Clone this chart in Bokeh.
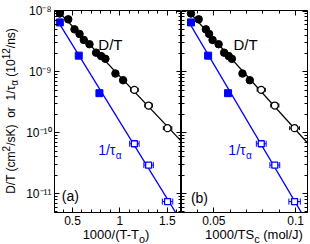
import numpy as np
from bokeh.plotting import figure
from bokeh.models import (Range1d, LinearAxis, LogAxis, LogTicker, FixedTicker, Label,
                          Whisker, TeeHead, ColumnDataSource, CustomJSTickFormatter, Div)
from bokeh.layouts import row, column
from bokeh.embed import file_html
from bokeh.resources import INLINE

# ---------------- data ----------------
# D/T (filled = measured, open = extrapolated)
dt_y = [9.1e-9, 7.3e-9, 5.0e-9, 4.2e-9, 3.35e-9, 2.85e-9, 2.07e-9, 1.82e-9, 1.64e-9, 9.4e-10, 7.3e-10]
dt_x_a = [0.366, 0.455, 0.521, 0.574, 0.619, 0.679, 0.749, 0.802, 0.847, 0.953, 1.034]
dt_x_b = [0.0360, 0.0407, 0.0451, 0.0471, 0.0492, 0.0529, 0.0563, 0.0591, 0.0610, 0.0675, 0.0720]
dt_open_y = [5.07e-10, 2.8e-10, 1.19e-10]
open_x_a = [1.153, 1.303, 1.503]
open_x_b = [0.0790, 0.0873, 0.0994]
dt_open_err_a = [0.04, 0.04, 0.045]
dt_open_err_b = [0.0025, 0.0025, 0.003]
# 1/tau_alpha
tau_y = [6.5e-9, 1.85e-9, 4.47e-10]
tau_x_a = [0.366, 0.566, 0.784]
tau_x_b = [0.0360, 0.0465, 0.0587]
tau_open_y = [6.6e-11, 2.94e-11, 7.4e-12]
tau_open_err_a = [0.05, 0.05, 0.055]
tau_open_err_b = [0.003, 0.003, 0.0035]
# fit-line spans
fit_dt_span_a = [0.30, 1.70]
fit_tau_span_a = [0.366, 1.70]
fit_dt_span_b = [0.028, 0.110]
fit_tau_span_b = [0.036, 0.110]
# axes
xticks_a = [0.5, 1.0, 1.5]
xminor_a = [0.4, 0.6, 0.7, 0.8, 0.9, 1.1, 1.2, 1.3, 1.4, 1.6]
xticks_b = [0.05, 0.1]
xminor_b = [0.04, 0.06, 0.07, 0.08, 0.09]
xrange_a = (0.31, 1.65)
xrange_b = (0.0302, 0.1073)
yrange = (4.9e-12, 1.02e-8)
xlabel_a = "1000/(T-T<sub>o</sub>)"
xlabel_b = "1000/TS<sub>c</sub> (mol/J)"
ylabel = "D/T (cm<sup>2</sup>/sK)&nbsp; or &nbsp;1/&tau;<sub>&alpha;</sub> (10<sup>12</sup>/ns)"

FONT = "Liberation Sans"
BLUE = "#0000ff"

log_fmt = CustomJSTickFormatter(code="""
const e = Math.round(Math.log10(tick));
const sup = {'-':'\u207b','0':'\u2070','1':'\u00b9','2':'\u00b2','3':'\u00b3','4':'\u2074',
             '5':'\u2075','6':'\u2076','7':'\u2077','8':'\u2078','9':'\u2079'};
return '10' + String(e).split('').map(c => sup[c]).join('');
""")
lin_fmt = CustomJSTickFormatter(code="return String(Math.round(tick*1000)/1000);")
blank_fmt = CustomJSTickFormatter(code="return '';")


def style(ax, labels, fixed=None):
    ax.major_tick_in = 5
    ax.major_tick_out = 0
    ax.minor_tick_in = 3
    ax.minor_tick_out = 0
    ax.axis_line_color = "black"
    ax.major_tick_line_color = "black"
    ax.minor_tick_line_color = "black"
    if labels:
        ax.major_label_text_font = FONT
        ax.major_label_text_font_size = "12px"
        ax.major_label_text_color = "black"
        ax.major_label_standoff = 3
    else:
        ax.formatter = blank_fmt
        ax.major_label_text_font_size = "1px"
        ax.major_label_standoff = 0
    if fixed is not None:
        ax.fixed_location = fixed


def fit_line(xs, ys, span):
    c = np.polyfit(np.asarray(xs), np.log10(np.asarray(ys)), 1)
    sx = np.asarray(span)
    return sx, 10 ** np.polyval(c, sx)


H = 228  # figure height (frame bottom at 212, tick labels below)


def panel(xr, xticks, xminor, dtx, openx, dterr, taux, tauerr, span_dt, span_tau,
          width, bl, br, show_ylabels):
    p = figure(width=width, height=H, x_range=Range1d(*xr), y_range=Range1d(*yrange),
               y_axis_type="log", output_backend="svg", toolbar_location=None,
               min_border_left=bl, min_border_right=br, min_border_top=10,
               min_border_bottom=H - 212, margin=0)
    p.xgrid.grid_line_color = None
    p.ygrid.grid_line_color = None
    p.outline_line_color = "black"
    p.background_fill_color = "white"
    xt = FixedTicker(ticks=xticks, minor_ticks=xminor)
    yt = LogTicker(num_minor_ticks=10)
    p.xaxis.ticker = xt
    p.xaxis.formatter = lin_fmt
    p.yaxis.ticker = yt
    p.yaxis.formatter = log_fmt
    style(p.xaxis[0], True)
    style(p.yaxis[0], show_ylabels, None if show_ylabels else xr[0])
    top = LinearAxis(ticker=xt)
    style(top, False, yrange[1])
    p.add_layout(top, "above")
    right = LogAxis(ticker=yt)
    style(right, False, xr[1])
    p.add_layout(right, "right")

    all_dt_x = list(dtx) + list(openx)
    all_dt_y = dt_y + dt_open_y
    lx, ly = fit_line(all_dt_x, all_dt_y, span_dt)
    p.line(lx, ly, line_color="black", line_width=1.3)
    all_tau_x = list(taux) + list(openx)
    all_tau_y = tau_y + tau_open_y
    lx, ly = fit_line(all_tau_x, all_tau_y, span_tau)
    p.line(lx, ly, line_color=BLUE, line_width=1.3)

    s1 = ColumnDataSource(dict(y=dt_open_y, lo=np.array(openx) - np.array(dterr),
                               hi=np.array(openx) + np.array(dterr)))
    p.add_layout(Whisker(base="y", lower="lo", upper="hi", dimension="width", source=s1,
                         line_color="black", line_width=1,
                         upper_head=TeeHead(size=4, line_color="black"),
                         lower_head=TeeHead(size=4, line_color="black")))
    s2 = ColumnDataSource(dict(y=tau_open_y, lo=np.array(openx) - np.array(tauerr),
                               hi=np.array(openx) + np.array(tauerr)))
    p.add_layout(Whisker(base="y", lower="lo", upper="hi", dimension="width", source=s2,
                         line_color=BLUE, line_width=1,
                         upper_head=TeeHead(size=6, line_color=BLUE),
                         lower_head=TeeHead(size=6, line_color=BLUE)))

    p.scatter(dtx, dt_y, marker="circle", size=7.5, fill_color="black", line_color="black")
    p.scatter(openx, dt_open_y, marker="circle", size=7, fill_color="white",
              line_color="black", line_width=1.3)
    p.scatter(taux, tau_y, marker="square", size=7, fill_color=BLUE, line_color=BLUE)
    p.scatter(openx, tau_open_y, marker="square", size=6, fill_color="white",
              line_color=BLUE, line_width=1.3)
    return p


def lab(p, x, y, text, size, color="black", align="left", baseline="alphabetic"):
    p.add_layout(Label(x=x, y=y, text=text, text_font=FONT, text_font_size=size,
                       text_color=color, text_align=align, text_baseline=baseline))


YW = 22  # width of the y-label column
p1 = panel(xrange_a, xticks_a, xminor_a, dt_x_a, open_x_a, dt_open_err_a, tau_x_a,
           tau_open_err_a, fit_dt_span_a, fit_tau_span_a, 181 - YW, 54 - YW, 0, True)
p2 = panel(xrange_b, xticks_b, xminor_b, dt_x_b, open_x_b, dt_open_err_b, tau_x_b,
           tau_open_err_b, fit_dt_span_b, fit_tau_span_b, 129, 0, 3, False)

# panel texts
lab(p1, 0.90, 2.77e-9, "D/T", "15px", align="center", baseline="middle")
lab(p1, 0.952, 5.26e-11, "1/\u03c4", "14px", color=BLUE, align="right")
lab(p1, 0.957, 4.2e-11, "\u03b1", "10px", color=BLUE)
lab(p1, 0.478, 9.27e-12, "(a)", "14px", align="center", baseline="middle")
lab(p2, 0.0694, 2.77e-9, "D/T", "15px", align="center", baseline="middle")
lab(p2, 0.0694, 5.26e-11, "1/\u03c4", "14px", color=BLUE, align="right")
lab(p2, 0.0697, 4.2e-11, "\u03b1", "10px", color=BLUE)
lab(p2, 0.0412, 8.6e-12, "(b)", "14px", align="center", baseline="middle")

XH = 244 - H


def css(size):
    return (f"font-family:'{FONT}';font-size:{size}px;color:black;"
            "white-space:nowrap;line-height:1;")


ydiv = Div(width=YW, height=H, margin=0, text=(
    f'<div style="position:relative;width:{YW}px;height:{H}px;">'
    f'<span style="position:absolute;left:11px;top:111px;{css(12)}'
    f'transform:translate(-50%,-50%) rotate(-90deg);">{ylabel}</span></div>'))

xdiv_a = Div(width=181, height=XH, margin=0, text=(
    f'<div style="position:relative;width:181px;height:{XH}px;">'
    f'<span style="position:absolute;left:116px;top:0px;{css(13)}'
    f'transform:translateX(-50%);">{xlabel_a}</span></div>'))
xdiv_b = Div(width=129, height=XH, margin=0, text=(
    f'<div style="position:relative;width:129px;height:{XH}px;">'
    f'<span style="position:absolute;left:{254 - 181}px;top:0px;{css(13)}'
    f'transform:translateX(-50%);">{xlabel_b}</span></div>'))

layout = column(row(ydiv, p1, p2, spacing=0, margin=0),
                row(xdiv_a, xdiv_b, spacing=0, margin=0), spacing=0, margin=0)
open("out.html", "w").write(file_html(layout, INLINE))
